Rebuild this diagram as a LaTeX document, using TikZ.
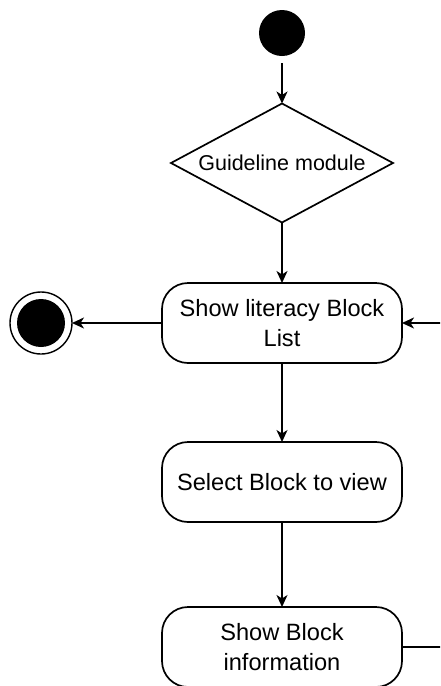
\documentclass[tikz,border=0pt]{standalone}
\usepackage{fontspec}
\setmainfont{Liberation Sans}
\usetikzlibrary{shapes.geometric,arrows.meta}
\begin{document}
\begin{tikzpicture}[x=1pt,y=-1pt,
  every node/.style={inner sep=0pt, outer sep=0pt},
  line/.style={line width=1.7pt, draw=black},
  flow/.style={line, -{Stealth[length=12pt,width=11pt,inset=3.5pt]}},
  activity/.style={line, rounded corners=26pt, minimum width=240pt, minimum height=80pt,
    align=center, font=\fontsize{23.6}{30}\selectfont},
  decision/.style={line, diamond, shape aspect=1.87, minimum width=222pt, minimum height=119pt,
    font=\fontsize{21.5}{26}\selectfont},
  startnode/.style={circle, fill=black, minimum size=46pt},
  endouter/.style={circle, draw=black, line width=1.4pt, fill=white, minimum size=62pt},
  endinner/.style={circle, fill=black, minimum size=48pt}
]
\clip (0,0) rectangle (440,686);
\fill[white] (0,0) rectangle (440,686);

% nodes
\node[startnode] (start) at (282,33) {};
\node[decision] (guide) at (282,163) {Guideline module};
\node[activity] (list) at (282,323) {Show literacy Block\\List};
\node[activity] (select) at (282,482) {Select Block to view};
\node[activity] (info) at (282,647) {Show Block\\information};
\node[endouter] (final) at (41,323) {};
\node[endinner] at (final) {};

% loop-back corner points
\coordinate (c1) at (465,647);
\coordinate (c2) at (465,323);

% connectors
\draw[flow, shorten <=7pt] (start) -- (guide);
\draw[flow] (guide) -- (list);
\draw[flow] (list) -- (final);
\draw[flow] (list) -- (select);
\draw[flow] (select) -- (info);
\draw[flow] (info.east) -- (c1) -- (c2) -- (list.east);
\end{tikzpicture}
\end{document}
